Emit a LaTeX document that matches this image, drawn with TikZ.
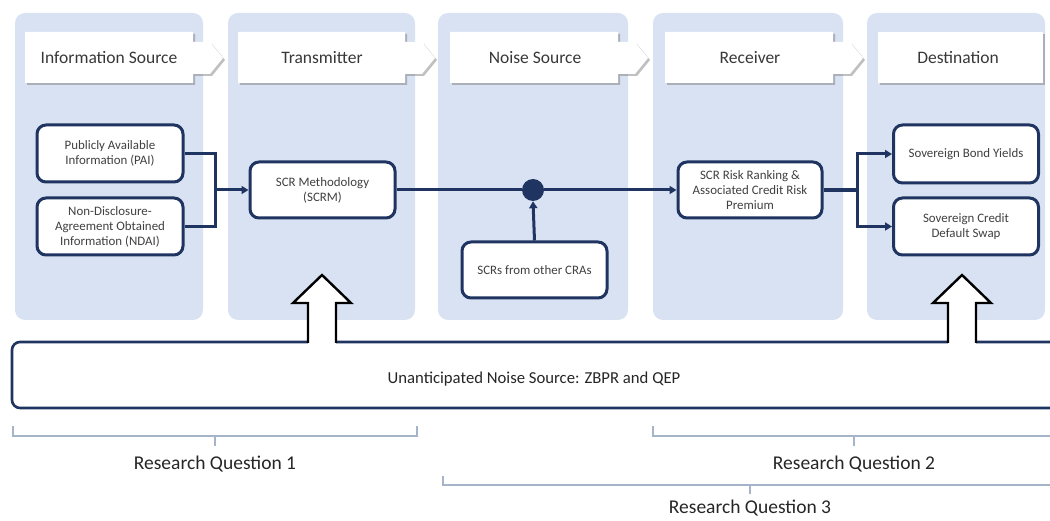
\documentclass[tikz,border=0pt]{standalone}
\usepackage{fontspec}
\setmainfont{Carlito}
\usetikzlibrary{shadows,arrows.meta}
\definecolor{navy}{RGB}{31,52,96}
\definecolor{lane}{RGB}{216,226,242}
\definecolor{brk}{RGB}{165,180,200}
\definecolor{hdrtext}{RGB}{56,56,56}
\definecolor{boxtext}{RGB}{64,64,64}
\begin{document}
\begin{tikzpicture}[x=1pt,y=-1pt,
  lanebg/.style={fill=lane, rounded corners=10pt},
  banner/.style={fill=white, drop shadow={shadow xshift=2pt, shadow yshift=-2pt, opacity=0.45, fill=black!55}},
  hdr/.style={text=hdrtext, font=\fontsize{17.5}{20}\selectfont, inner sep=0pt},
  stepbox/.style={draw=navy, line width=3pt, rounded corners=9pt, fill=white, align=center,
    text=boxtext, font=\fontsize{12.9}{15}\selectfont, inner sep=0pt},
  conn/.style={draw=navy, line width=3pt},
  tip/.style={-{Triangle[length=7pt,width=8pt]}},
  blockarrow/.style={draw=black, line width=2.4pt, fill=white, line join=miter},
  bracket/.style={draw=brk, line width=1.1pt},
  rq/.style={text=black!85, font=\fontsize{19.5}{22}\selectfont, inner sep=0pt}]
\useasboundingbox (0,0) rectangle (1050,521);

% swim lanes
\foreach \l/\r in {15/203, 228/415, 438/628, 653/843, 867/1045}
  \path[lanebg] (\l,13) rectangle (\r,320);

% header banners with arrow tabs
\foreach \l/\r in {25/193, 238/405, 450/618, 665/833}
  \path[banner] (\l,32) -- (\r,32) -- (\r,42) -- (\r+17,42) -- (\r+30,58) -- (\r+17,74)
    -- (\r,74) -- (\r,83) -- (\l,83) -- cycle;
\path[banner] (878,32) rectangle (1043,83);

\node[hdr] (h1) at (109,58) {Information Source};
\node[hdr] (h2) at (322,58) {Transmitter};
\node[hdr] (h3) at (535,58) {Noise Source};
\node[hdr] (h4) at (750,58) {Receiver};
\node[hdr] (h5) at (958,58) {Destination};

% process boxes
\node[stepbox, minimum width=146pt, minimum height=57pt] (pai) at (110,153.5)
  {Publicly Available\\Information (PAI)};
\node[stepbox, minimum width=146pt, minimum height=57pt] (ndai) at (110,226.5)
  {Non-Disclosure-\\Agreement Obtained\\Information (NDAI)};
\node[stepbox, minimum width=145pt, minimum height=56pt] (scrm) at (322.5,190)
  {SCR Methodology\\(SCRM)};
\node[stepbox, minimum width=145pt, minimum height=56pt] (cras) at (534.5,270)
  {SCRs from other CRAs};
\node[stepbox, minimum width=144pt, minimum height=56pt] (recv) at (750,190)
  {SCR Risk Ranking \&\\Associated Credit Risk\\Premium};
\node[stepbox, minimum width=145pt, minimum height=58pt] (sby) at (966,154)
  {Sovereign Bond Yields};
\node[stepbox, minimum width=145pt, minimum height=57pt] (scds) at (966,226.5)
  {Sovereign Credit\\Default Swap};
\node[circle, fill=navy, minimum size=22pt, inner sep=0pt] (dot) at (533,190) {};

% connectors
\coordinate (j1) at (215,190);
\coordinate (j2) at (857,190);
\draw[conn] (pai.east) -| (j1) |- (ndai.east);
\draw[conn, tip] (j1) -- (scrm.west);
\draw[conn] (scrm.east) -- (dot);
\draw[conn, tip] (dot) -- (recv.west);
\draw[conn, tip] (cras.north) -- (dot.south);
\draw[conn, line width=4pt] (recv.east) -- (j2);
\draw[conn, tip] (j2) |- (sby.west);
\draw[conn, tip] (j2) |- (scds.west);

% unanticipated noise source
\node[draw=navy, line width=2.6pt, rounded corners=8pt, fill=white,
  minimum width=1060pt, minimum height=66pt, inner sep=0pt] (noise) at (542,375) {};
\node[text=black!85, font=\fontsize{16.7}{19}\selectfont, inner sep=0pt] (noisetxt) at (534,379)
  {Unanticipated Noise Source: ZBPR and QEP};

% hollow block arrows rising from the noise box
\foreach \c in {322, 962} {
  \fill[white] (\c-14,338) rectangle (\c+14,346);
  \draw[blockarrow] (\c-14,343) -- (\c-14,303) -- (\c-29,303) -- (\c,275)
    -- (\c+29,303) -- (\c+14,303) -- (\c+14,343);
}

% research question brackets
\draw[bracket] (13,426) -- (13,436) -- (417,436) -- (417,426);
\draw[bracket] (215,436) -- (215,446);
\node[rq] (rq1) at (215,464) {Research Question 1};

\draw[bracket] (653,426) -- (653,436) -- (1060,436);
\draw[bracket] (854,436) -- (854,446);
\node[rq] (rq2) at (854,464) {Research Question 2};

\draw[bracket] (443,476) -- (443,485) -- (1060,485);
\draw[bracket] (750,485) -- (750,494);
\node[rq] (rq3) at (750,508) {Research Question 3};
\end{tikzpicture}
\end{document}
